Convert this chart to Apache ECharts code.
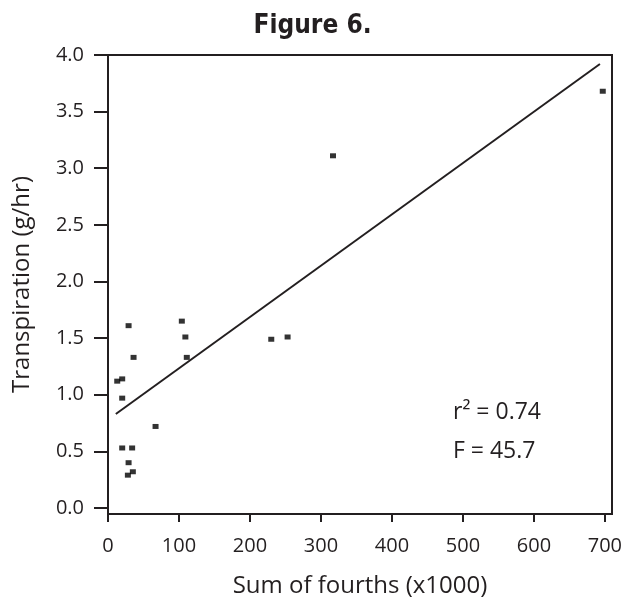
<!DOCTYPE html>
<html><head><meta charset="utf-8">
<script src="https://cdn.jsdelivr.net/npm/echarts@6/dist/echarts.min.js"></script>
<style>html,body{margin:0;padding:0;background:#fff}#c{width:625px;height:599px}</style>
</head><body><div id="c"></div>
<script>
const sumFourths = [29, 104, 109, 36, 111, 13, 20, 20, 67, 20, 34, 29, 35, 28, 317, 230, 253, 697];
const transpiration = [1.61, 1.65, 1.51, 1.33, 1.33, 1.12, 1.14, 0.97, 0.72, 0.53, 0.53, 0.40, 0.32, 0.29, 3.11, 1.49, 1.51, 3.68];
const fitX = [11, 693];
const fitY = [0.83, 3.92];
const xTicks = [0, 100, 200, 300, 400, 500, 600, 700];
const yTicks = [0, 0.5, 1.0, 1.5, 2.0, 2.5, 3.0, 3.5, 4.0];
const stats = ['r\u00B2 = 0.74', 'F = 45.7'];

const ink = '#231f20';
const font = '"Open Sans", "Liberation Sans", sans-serif';
const chart = echarts.init(document.getElementById('c'));
chart.setOption({
  animation: false,
  title: {
    text: 'Figure 6.', left: 'center', top: 8,
    textStyle: { fontFamily: '"Liberation Sans Narrow", "DejaVu Sans Condensed", sans-serif', fontWeight: 'bold', fontSize: 26, color: ink }
  },
  grid: { left: 108, top: 55, right: 13, bottom: 85, containLabel: false, outerBoundsMode: 'none',
    show: true, borderColor: ink, borderWidth: 2, backgroundColor: 'transparent' },
  xAxis: {
    type: 'value', min: 0, max: 710,
    name: 'Sum of fourths (x1000)', nameLocation: 'middle', nameGap: 60,
    nameTextStyle: { fontFamily: font, fontSize: 24, color: ink },
    axisLine: { show: true, onZero: false, lineStyle: { color: ink, width: 2 } },
    axisTick: { show: true, length: 8, lineStyle: { color: ink, width: 2 }, customValues: xTicks },
    axisLabel: { fontFamily: font, fontSize: 20, color: ink, margin: 22, customValues: xTicks },
    splitLine: { show: false }
  },
  yAxis: {
    type: 'value', min: -0.053, max: 4.0,
    name: 'Transpiration (g/hr)', nameLocation: 'middle', nameGap: 74,
    nameTextStyle: { fontFamily: font, fontSize: 24, color: ink },
    axisLine: { show: true, onZero: false, lineStyle: { color: ink, width: 2 } },
    axisTick: { show: true, length: 14, lineStyle: { color: ink, width: 2 }, customValues: yTicks },
    axisLabel: { fontFamily: font, fontSize: 20, color: ink, margin: 24, customValues: yTicks,
      formatter: v => v.toFixed(1) },
    splitLine: { show: false }
  },
  series: [
    {
      type: 'scatter', symbol: 'rect', symbolSize: [6, 5],
      itemStyle: { color: '#000' },
      data: sumFourths.map((x, i) => [x, transpiration[i]])
    },
    {
      type: 'line', symbol: 'none', silent: true,
      lineStyle: { color: ink, width: 2 },
      data: fitX.map((x, i) => [x, fitY[i]])
    }
  ],
  graphic: [
    { type: 'text', left: 453, top: 401, style: { text: stats[0], fontFamily: font, fontSize: 23, fill: ink } },
    { type: 'text', left: 453, top: 440, style: { text: stats[1], fontFamily: font, fontSize: 23, fill: ink } }
  ]
});
</script></body></html>
